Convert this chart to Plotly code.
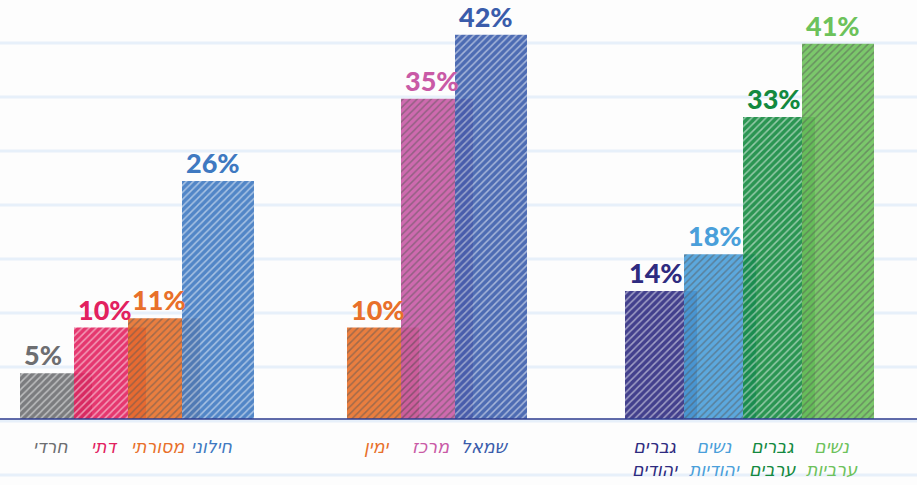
import plotly.graph_objects as go

# ---------------------------------------------------------------------------
# DATA
# ---------------------------------------------------------------------------

religion_labels = ["חרדי", "דתי", "מסורתי", "חילוני"]
religion_values = [5, 10, 11, 26]

politics_labels = ["ימין", "מרכז", "שמאל"]
politics_values = [10, 35, 42]

sector_labels = ["גברים<br>יהודים", "נשים<br>יהודיות", "גברים<br>ערבים", "נשים<br>ערביות"]
sector_values = [14, 18, 33, 41]

# ---------------------------------------------------------------------------
# STYLE
# ---------------------------------------------------------------------------

religion_colors = ["#6D6E71", "#E2215F", "#E8702A", "#3F79C1"]
politics_colors = ["#E8702A", "#C95AA6", "#3A5CAB"]
sector_colors = ["#2E2B80", "#4A9FDA", "#13893F", "#6DC25B"]

_BG = "#FDFDFD"
_GRID = "#E7F0FA"
_BASE = "#2B3A8E"

W, H = 917, 485
BAR_W = 72
PX_PER_PCT = 9.15
BASE_PX = 419          # y pixel of the zero line

groups = [
    (religion_labels, religion_values, religion_colors, 56, 54),
    (politics_labels, politics_values, politics_colors, 383, 54),
    (sector_labels, sector_values, sector_colors, 661, 59),
]

xs, ys, cols, labs = [], [], [], []
for labels, values, colors, start, step in groups:
    for i, (lab, val, col) in enumerate(zip(labels, values, colors)):
        xs.append(start + i * step)
        ys.append(val)
        cols.append(col)
        labs.append(lab)

fig = go.Figure(go.Bar(
    x=xs,
    y=ys,
    width=BAR_W,
    marker=dict(
        color=cols,
        opacity=0.9,
        line=dict(width=0),
        pattern=dict(
            shape="/",
            fillmode="overlay",
            fgcolor="rgba(255,255,255,0.85)",
            size=5,
            solidity=0.3,
        ),
    ),
    hoverinfo="skip",
))

# value labels above bars
for x, y, c in zip(xs, ys, cols):
    fig.add_annotation(
        x=x - BAR_W / 2 + 2, y=y, xref="x", yref="y",
        text=f"{y}%", showarrow=False,
        xanchor="left", yanchor="bottom",
        font=dict(family="Lato", size=27, color=c, weight=900),
    )

# category labels under bars
for x, lab, c in zip(xs, labs, cols):
    fig.add_annotation(
        x=x - 6, y=(BASE_PX - 435) / PX_PER_PCT, xref="x", yref="y",
        text=lab, showarrow=False,
        xanchor="center", yanchor="top",
        font=dict(family="DejaVu Sans", size=17.5, color=c, style="italic"),
    )

# notebook-paper lines
for py in range(43, H, 54):
    fig.add_shape(
        type="line", xref="paper", yref="paper",
        x0=0, x1=1, y0=1 - py / H, y1=1 - py / H,
        line=dict(color=_GRID, width=3), layer="below",
    )

# baseline
fig.add_shape(
    type="line", xref="paper", yref="y",
    x0=0, x1=1, y0=0, y1=0,
    line=dict(color=_BASE, width=1.6),
)

fig.update_layout(
    width=W, height=H,
    margin=dict(l=0, r=0, t=0, b=0),
    paper_bgcolor=_BG,
    plot_bgcolor=_BG,
    showlegend=False,
    xaxis=dict(range=[0, W], visible=False, fixedrange=True),
    yaxis=dict(
        range=[(BASE_PX - H) / PX_PER_PCT, BASE_PX / PX_PER_PCT],
        visible=False, fixedrange=True,
    ),
)

fig.write_html(
    "out.html",
    config={"displayModeBar": False},
    post_script="document.body.style.margin='0';document.body.style.overflow='hidden';",
)
